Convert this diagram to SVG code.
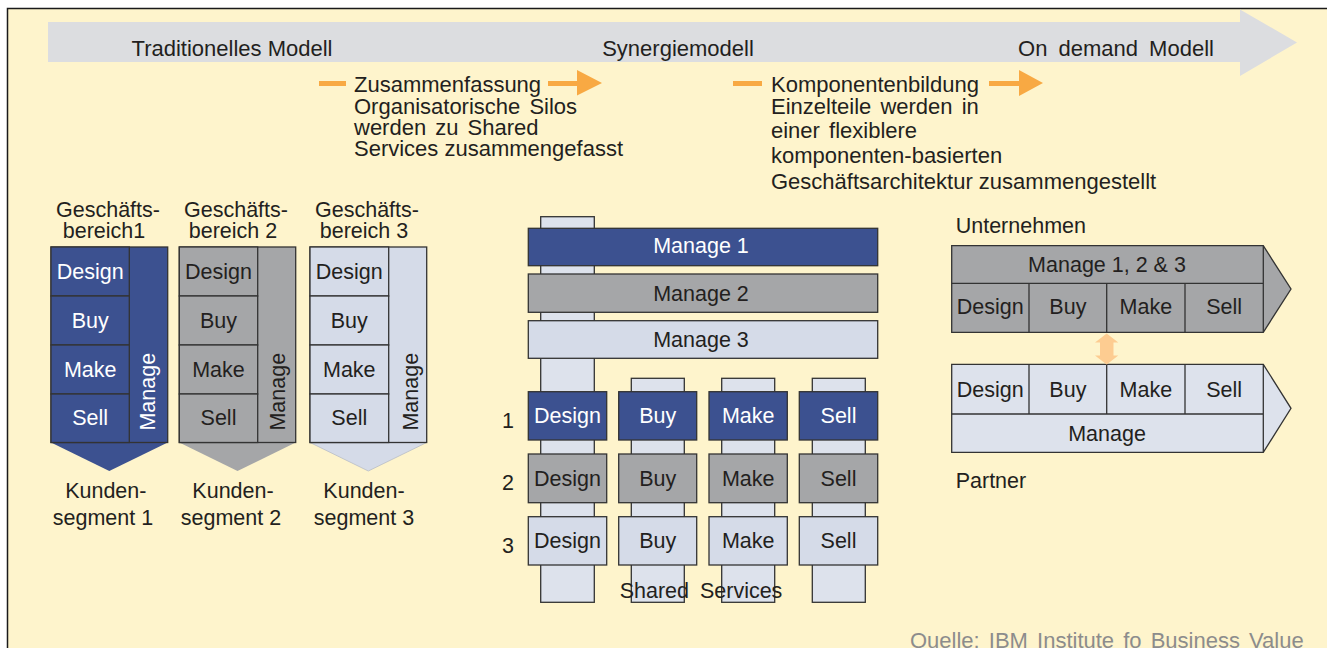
<svg xmlns="http://www.w3.org/2000/svg" width="1327" height="648" viewBox="0 0 1327 648">
<style>
text{font-family:"Liberation Sans",Arial,sans-serif;font-size:21.5px;fill:#231f20}
.d{font-size:22px}
.w{fill:#fff}
.m{text-anchor:middle}
.b{fill:#3c5190}
.g{fill:#a5a6a8}
.l{fill:#d5dbe8}
.bar{fill:#dde2ec}
.s{stroke:#333;stroke-width:1.3}
.ln{stroke:#333;stroke-width:1.3;fill:none}
.or{fill:#f8a943}
.ws{word-spacing:3px}
</style>
<rect x="0" y="0" width="1327" height="648" fill="#fff"/>
<rect x="7.5" y="8.5" width="1330" height="650" fill="#fef4cc" stroke="#1a1a1a" stroke-width="1.5"/>

<g id="timeline">
<polygon points="48,22 1240,22 1240,9.5 1297,42.5 1240,76 1240,62 48,62" fill="#dcdde0"/>
<text class="m d" x="232" y="56">Traditionelles Modell</text>
<text class="m d" x="678" y="56">Synergiemodell</text>
<text class="m d" x="1116" y="56" style="word-spacing:5px">On demand Modell</text>
</g>

<g id="desc1">
<rect class="or" x="319" y="81" width="27" height="5"/>
<text class="d" x="354" y="92">Zusammenfassung</text>
<text class="ws d" x="354" y="113.5">Organisatorische Silos</text>
<text class="ws d" x="354" y="135">werden zu Shared</text>
<text class="d" x="354" y="156">Services zusammengefasst</text>
</g>

<g id="desc2">
<rect class="or" x="733" y="81" width="29" height="5"/>
<text class="d" x="771" y="92">Komponentenbildung</text>
<text class="ws d" x="771" y="113.5">Einzelteile werden in</text>
<text class="ws d" x="771" y="137.5">einer flexiblere</text>
<text class="d" x="771" y="162.5">komponenten-basierten</text>
<text class="d" x="771" y="188.5">Geschäftsarchitektur zusammengestellt</text>
</g>

<g id="silo1">
<text class="m" x="108" y="216.7">Geschäfts-</text>
<text class="m" x="104" y="238">bereich1</text>
<polygon class="b" points="51,442.5 167.7,442.5 109.3,471"/>
<rect class="b s" x="51" y="247" width="116.7" height="195.5"/>
<rect class="b s" x="51" y="247" width="78.3" height="49"/>
<rect class="b s" x="51" y="296" width="78.3" height="49"/>
<rect class="b s" x="51" y="345" width="78.3" height="49"/>
<rect class="b s" x="51" y="394" width="78.3" height="48.5"/>
<text class="m w" x="90.2" y="279.3">Design</text>
<text class="m w" x="90.2" y="328">Buy</text>
<text class="m w" x="90.2" y="376.7">Make</text>
<text class="m w" x="90.2" y="425.3">Sell</text>
<text class="m w" transform="translate(155,391.7) rotate(-90)">Manage</text>
<text class="m" x="105.8" y="498">Kunden-</text>
<text class="m" x="103" y="525">segment 1</text>
</g>

<g id="silo2">
<text class="m" x="236" y="216.7">Geschäfts-</text>
<text class="m" x="233" y="238">bereich 2</text>
<polygon class="g" points="179.3,442.5 295.7,442.5 237.5,471"/>
<rect class="g s" x="179.3" y="247" width="116.4" height="195.5"/>
<rect class="g s" x="179.3" y="247" width="78.4" height="49"/>
<rect class="g s" x="179.3" y="296" width="78.4" height="49"/>
<rect class="g s" x="179.3" y="345" width="78.4" height="49"/>
<rect class="g s" x="179.3" y="394" width="78.4" height="48.5"/>
<text class="m" x="218.5" y="279.3">Design</text>
<text class="m" x="218.5" y="328">Buy</text>
<text class="m" x="218.5" y="376.7">Make</text>
<text class="m" x="218.5" y="425.3">Sell</text>
<text class="m" transform="translate(285,391.7) rotate(-90)">Manage</text>
<text class="m" x="233" y="498">Kunden-</text>
<text class="m" x="231" y="525">segment 2</text>
</g>

<g id="silo3">
<text class="m" x="367" y="216.7">Geschäfts-</text>
<text class="m" x="364" y="238">bereich 3</text>
<polygon class="l" points="310,442.5 426.7,442.5 368.3,471" stroke="#b8bcc6" stroke-width="0.8"/>
<rect class="l s" x="310" y="247" width="116.7" height="195.5"/>
<rect class="l s" x="310" y="247" width="78.7" height="49"/>
<rect class="l s" x="310" y="296" width="78.7" height="49"/>
<rect class="l s" x="310" y="345" width="78.7" height="49"/>
<rect class="l s" x="310" y="394" width="78.7" height="48.5"/>
<text class="m" x="349.3" y="279.3">Design</text>
<text class="m" x="349.3" y="328">Buy</text>
<text class="m" x="349.3" y="376.7">Make</text>
<text class="m" x="349.3" y="425.3">Sell</text>
<text class="m" transform="translate(418,391.7) rotate(-90)">Manage</text>
<text class="m" x="364" y="498">Kunden-</text>
<text class="m" x="364" y="525">segment 3</text>
</g>

<g id="shared">
<rect class="bar s" x="540.7" y="216.7" width="53.6" height="385.6"/>
<rect class="bar s" x="631.3" y="378.3" width="53" height="224"/>
<rect class="bar s" x="721.7" y="378.3" width="53" height="224"/>
<rect class="bar s" x="812.3" y="378.3" width="53" height="224"/>
<rect class="b s" x="528.3" y="228.3" width="349.4" height="37.4"/>
<rect class="g s" x="528.3" y="274" width="349.4" height="38.3"/>
<rect class="l s" x="528.3" y="320.7" width="349.4" height="37.6"/>
<text class="m w" x="701" y="253.3">Manage 1</text>
<text class="m" x="701" y="300.7">Manage 2</text>
<text class="m" x="701" y="346.7">Manage 3</text>

<rect class="b s" x="528.3" y="391.7" width="78.4" height="48.3"/>
<rect class="b s" x="618.7" y="391.7" width="78" height="48.3"/>
<rect class="b s" x="709" y="391.7" width="78.3" height="48.3"/>
<rect class="b s" x="799.3" y="391.7" width="78.4" height="48.3"/>
<rect class="g s" x="528.3" y="454" width="78.4" height="48.7"/>
<rect class="g s" x="618.7" y="454" width="78" height="48.7"/>
<rect class="g s" x="709" y="454" width="78.3" height="48.7"/>
<rect class="g s" x="799.3" y="454" width="78.4" height="48.7"/>
<rect class="l s" x="528.3" y="516.7" width="78.4" height="48.3"/>
<rect class="l s" x="618.7" y="516.7" width="78" height="48.3"/>
<rect class="l s" x="709" y="516.7" width="78.3" height="48.3"/>
<rect class="l s" x="799.3" y="516.7" width="78.4" height="48.3"/>

<text class="m w" x="567.5" y="422.7">Design</text>
<text class="m w" x="657.7" y="422.7">Buy</text>
<text class="m w" x="748.2" y="422.7">Make</text>
<text class="m w" x="838.5" y="422.7">Sell</text>
<text class="m" x="567.5" y="486">Design</text>
<text class="m" x="657.7" y="486">Buy</text>
<text class="m" x="748.2" y="486">Make</text>
<text class="m" x="838.5" y="486">Sell</text>
<text class="m" x="567.5" y="548.3">Design</text>
<text class="m" x="657.7" y="548.3">Buy</text>
<text class="m" x="748.2" y="548.3">Make</text>
<text class="m" x="838.5" y="548.3">Sell</text>

<text class="m" x="508" y="428.3">1</text>
<text class="m" x="508" y="490">2</text>
<text class="m" x="508" y="552.7">3</text>
<text class="m" x="701" y="598.3" style="word-spacing:5px">Shared Services</text>
</g>

<g id="unternehmen">
<text x="955.7" y="233.3">Unternehmen</text>
<polygon class="g s" points="951.7,245.7 1263.3,245.7 1291,289 1263.3,332.3 951.7,332.3"/>
<path class="ln" d="M1263.3,245.7V332.3M951.7,283.3H1263.3M1029,283.3V332.3M1106.7,283.3V332.3M1185,283.3V332.3"/>
<text class="m" x="1107" y="271.7">Manage 1, 2 &amp; 3</text>
<text class="m" x="990.3" y="314.3">Design</text>
<text class="m" x="1067.9" y="314.3">Buy</text>
<text class="m" x="1145.9" y="314.3">Make</text>
<text class="m" x="1224.2" y="314.3">Sell</text>
</g>

<g id="partner">
<polygon class="bar s" points="951.7,364.3 1263.3,364.3 1291,408.3 1263.3,452.3 951.7,452.3"/>
<path class="ln" d="M1263.3,364.3V452.3M951.7,414H1263.3M1029,364.3V414M1106.7,364.3V414M1185,364.3V414"/>
<text class="m" x="990.3" y="396.7">Design</text>
<text class="m" x="1067.9" y="396.7">Buy</text>
<text class="m" x="1145.9" y="396.7">Make</text>
<text class="m" x="1224.2" y="396.7">Sell</text>
<text class="m" x="1107" y="440.7">Manage</text>
<text x="955.7" y="488.3">Partner</text>
</g>

<g id="connectors">
<polygon class="or" points="548,81 577,81 577,70 602,83 577,95.5 577,86 548,86"/>
<polygon class="or" points="989,81 1019,81 1019,70 1043,83 1019,96 1019,86 989,86"/>
<polygon fill="#fdcc91" points="1106.7,333.5 1118.3,342.5 1113.5,342.5 1113.5,355.5 1118.3,355.5 1106.7,364.5 1095,355.5 1100,355.5 1100,342.5 1095,342.5"/>
</g>

<text class="d" x="910" y="648" style="fill:#8c8c8c;word-spacing:3px">Quelle: IBM Institute fo Business Value</text>
</svg>
